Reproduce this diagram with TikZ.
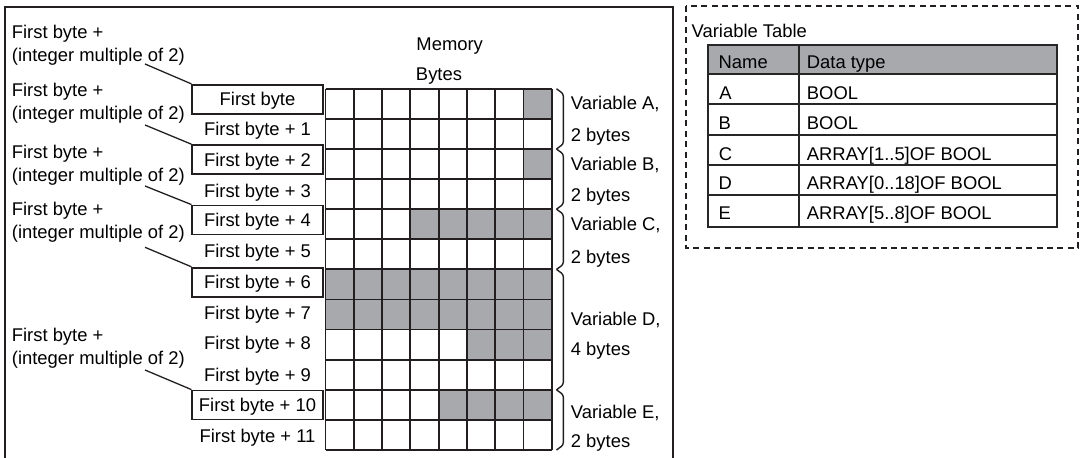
\documentclass[tikz,border=0pt]{standalone}
\usepackage{fontspec}
\setmainfont{Liberation Sans}
\definecolor{cellgray}{RGB}{167,169,172}
\definecolor{ink}{RGB}{35,31,32}
\begin{document}
\begin{tikzpicture}[x=0.5pt,y=-0.5pt,
  every node/.style={font=\fontsize{9.2pt}{11pt}\selectfont, inner sep=0pt, text height=6.6pt, text depth=0pt},
  rowlabel/.style={minimum width=65.2pt, minimum height=14.5pt, anchor=center},
  boxed/.style={rowlabel, draw=ink, line width=0.9pt},
  lefttext/.style={anchor=west},
  gridline/.style={draw=ink, line width=0.9pt},
  bracestyle/.style={draw=ink, line width=0.7pt, rounded corners=1.2pt},
  leader/.style={draw=ink, line width=0.65pt},
  tableline/.style={draw=black!85, line width=1.15pt}
]
\useasboundingbox (0,0) rectangle (1080,458);

% main frame
\draw[draw=ink, line width=1.1pt] (5,7) rectangle (673,470);

% titles
\node (memory) at (449.7,44) {Memory};
\node (bytes) at (439,74) {Bytes};

% shaded cells
\foreach \r/\a/\b in {0/7/7, 2/7/7, 4/3/7, 6/0/7, 7/0/7, 8/5/7, 10/4/7}
  \fill[cellgray] ({325.5+28.275*\a},{88.8+30.1*\r}) rectangle ({325.5+28.275*(\b+1)},{88.8+30.1*(\r+1)});
% grid lines
\foreach \i in {0,...,8}
  \draw[gridline] ({325.5+28.275*\i},88.8) -- ({325.5+28.275*\i},450);
\foreach \j in {0,...,12}
  \draw[gridline] (325.5,{88.8+30.1*\j}) -- (551.7,{88.8+30.1*\j});

% row labels
\node[boxed]    (b0)  at (257.5,99.3)  {First byte};
\node[rowlabel] (b1)  at (257.5,128.8) {First byte + 1};
\node[boxed]    (b2)  at (257.5,159.6) {First byte + 2};
\node[rowlabel] (b3)  at (257.5,190.7) {First byte + 3};
\node[boxed]    (b4)  at (257.5,220)   {First byte + 4};
\node[rowlabel] (b5)  at (257.5,250.7) {First byte + 5};
\node[boxed]    (b6)  at (257.5,282.2) {First byte + 6};
\node[rowlabel] (b7)  at (257.5,312.7) {First byte + 7};
\node[rowlabel] (b8)  at (257.5,343.3) {First byte + 8};
\node[rowlabel] (b9)  at (257.5,375)   {First byte + 9};
\node[boxed]    (b10) at (257.5,405)   {First byte + 10};
\node[rowlabel] (b11) at (257.5,436)   {First byte + 11};

% left annotations
\node[lefttext] (g1a) at (11.5,31.7)  {First byte +};
\node[lefttext] (g1b) at (11.5,55)    {(integer multiple of 2)};
\node[lefttext] (g2a) at (11.5,90)    {First byte +};
\node[lefttext] (g2b) at (11.5,113.3) {(integer multiple of 2)};
\node[lefttext] (g3a) at (11.5,151.7) {First byte +};
\node[lefttext] (g3b) at (11.5,175)   {(integer multiple of 2)};
\node[lefttext] (g4a) at (11.5,209.3) {First byte +};
\node[lefttext] (g4b) at (11.5,231.7) {(integer multiple of 2)};
\node[lefttext] (g5a) at (11.5,335)   {First byte +};
\node[lefttext] (g5b) at (11.5,358.3) {(integer multiple of 2)};

\coordinate (l1) at (145,64);
\coordinate (l2) at (145,125);
\coordinate (l3) at (145,186);
\coordinate (l4) at (145,247.3);
\coordinate (l5) at (145,370);
\draw[leader] (l1) -- (b0.north west);
\draw[leader] (l2) -- (b2.north west);
\draw[leader] (l3) -- (b4.north west);
\draw[leader] (l4) -- (b6.north west);
\draw[leader] (l5) -- (b10.north west);

% braces
\foreach \t/\b in {88.8/149, 149/209.2, 209.2/269.4, 269.4/389.8, 389.8/450}
  \draw[bracestyle] (556.5,\t) -- (563.3,{\t+5}) -- (563.3,{\b-5}) -- (556.5,\b);

% variable labels
\node[lefttext] (va1) at (570.5,102.7) {Variable A,};
\node[lefttext] (va2) at (570.5,135)   {2 bytes};
\node[lefttext] (vb1) at (570.5,164)   {Variable B,};
\node[lefttext] (vb2) at (570.5,195)   {2 bytes};
\node[lefttext] (vc1) at (570.5,224)   {Variable C,};
\node[lefttext] (vc2) at (570.5,257.3) {2 bytes};
\node[lefttext] (vd1) at (570.5,319.3) {Variable D,};
\node[lefttext] (vd2) at (570.5,349.3) {4 bytes};
\node[lefttext] (ve1) at (570.5,411.7) {Variable E,};
\node[lefttext] (ve2) at (570.5,440.7) {2 bytes};

% variable table
\draw[draw=ink, line width=1pt, dash pattern=on 3pt off 2.2pt] (686,6) rectangle (1078.3,248.3);
\node[lefttext] (vtitle) at (691.3,30.7) {Variable Table};
\fill[cellgray] (708.3,45) rectangle (1057.3,74);
\foreach \y in {74,104,135,165,195}
  \draw[tableline] (708.3,\y) -- (1057.3,\y);
\draw[tableline] (799.3,45) -- (799.3,226.7);
\draw[tableline] (708.3,45) rectangle (1057.3,226.7);

\node[lefttext] (tn0) at (718.3,61.7)  {Name};
\node[lefttext] (tt0) at (806.5,61.7)  {Data type};
\node[lefttext] (tn1) at (719,92.7)    {A};
\node[lefttext] (tt1) at (806.5,92.7)  {BOOL};
\node[lefttext] (tn2) at (718.3,122.7) {B};
\node[lefttext] (tt2) at (806.5,122.7) {BOOL};
\node[lefttext] (tn3) at (718.5,154)   {C};
\node[lefttext] (tt3) at (806.5,154)   {ARRAY[1..5]OF BOOL};
\node[lefttext] (tn4) at (718.3,183.3) {D};
\node[lefttext] (tt4) at (806.5,183.3) {ARRAY[0..18]OF BOOL};
\node[lefttext] (tn5) at (718.3,213.3) {E};
\node[lefttext] (tt5) at (806.5,213.3) {ARRAY[5..8]OF BOOL};
\end{tikzpicture}
\end{document}
